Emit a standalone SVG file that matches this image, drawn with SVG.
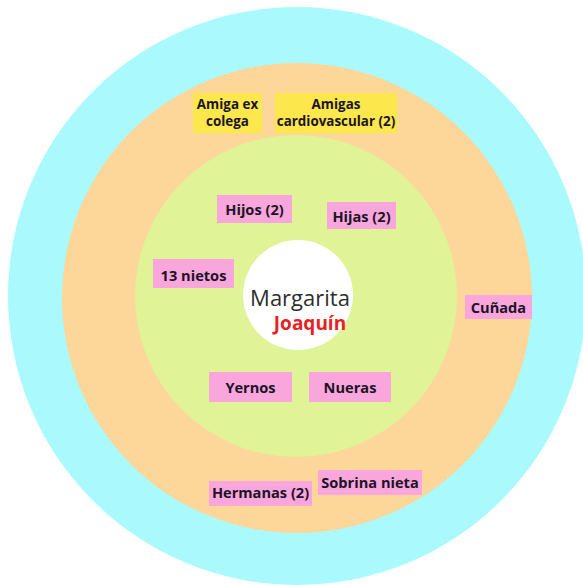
<svg xmlns="http://www.w3.org/2000/svg" width="583" height="585" viewBox="0 0 583 585">
<style>
.lbl{font-family:"Open Sans","Noto Sans","Liberation Sans",sans-serif;font-weight:700;font-size:14.6px;fill:#1b1424;text-anchor:middle}
.sm{font-size:13.4px}
.pink{fill:#f9a6dc}
.yel{fill:#fce74c}
</style>
<rect width="583" height="585" fill="#ffffff"/>
<g id="rings">
<circle cx="297" cy="296" r="289" fill="#aafafd"/>
<circle cx="297" cy="298" r="235" fill="#fdd69a"/>
<circle cx="296" cy="296" r="161" fill="#e0f396"/>
<circle cx="298" cy="295" r="55" fill="#ffffff"/>
</g>
<g id="center">
<text x="300" y="306" font-family="'Open Sans','Noto Sans',sans-serif" font-size="22" fill="#2e2e2e" text-anchor="middle">Margarita</text>
<text x="310" y="330" font-family="'Open Sans','Noto Sans',sans-serif" font-size="19" font-weight="700" fill="#e8221e" text-anchor="middle">Joaquín</text>
</g>
<g id="amiga-ex-colega"><rect class="yel" x="193" y="93" width="69" height="40"/><text class="lbl sm" x="227.5" y="109">Amiga ex</text><text class="lbl sm" x="227.5" y="126">colega</text></g>
<g id="amigas-cardio"><rect class="yel" x="275" y="93" width="122" height="40"/><text class="lbl sm" x="336" y="109">Amigas</text><text class="lbl sm" x="336" y="126">cardiovascular (2)</text></g>
<g id="hijos"><rect class="pink" x="217" y="195" width="75" height="28"/><text class="lbl" x="254.5" y="215">Hijos (2)</text></g>
<g id="hijas"><rect class="pink" x="327" y="202" width="69" height="27"/><text class="lbl" x="361.5" y="222">Hijas (2)</text></g>
<g id="nietos"><rect class="pink" x="153" y="259" width="81" height="29"/><text class="lbl" x="193.5" y="281">13 nietos</text></g>
<g id="yernos"><rect class="pink" x="209" y="372" width="83" height="30"/><text class="lbl" x="250.5" y="393">Yernos</text></g>
<g id="nueras"><rect class="pink" x="309" y="372" width="82" height="30"/><text class="lbl" x="350" y="393">Nueras</text></g>
<g id="cunada"><rect class="pink" x="465" y="295" width="67" height="24"/><text class="lbl" x="498.5" y="313">Cuñada</text></g>
<g id="hermanas"><rect class="pink" x="209" y="481" width="103" height="25"/><text class="lbl" x="260.5" y="498">Hermanas (2)</text></g>
<g id="sobrina"><rect class="pink" x="318" y="470" width="104" height="25"/><text class="lbl" x="370" y="488">Sobrina nieta</text></g>
</svg>
